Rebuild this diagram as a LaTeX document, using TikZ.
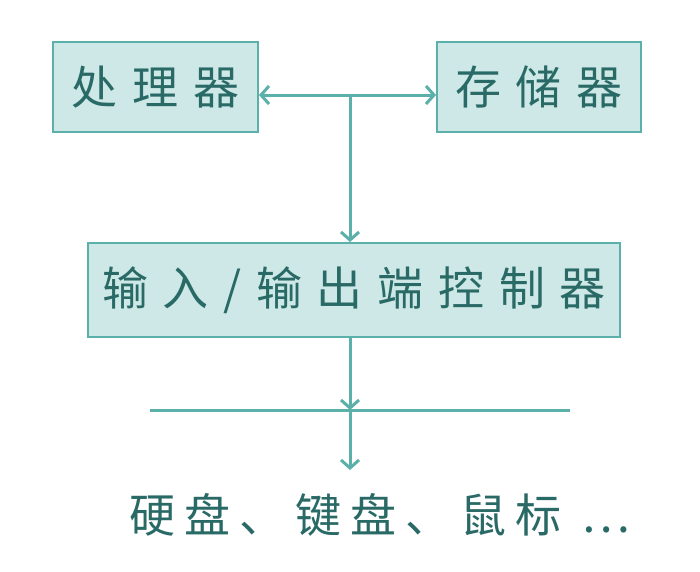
\documentclass[tikz,border=0pt]{standalone}
\usepackage{fontspec}
\newfontfamily\cjk{Noto Sans CJK SC}
\newfontfamily\cjkw[LetterSpace=32]{Noto Sans CJK SC}
\newfontfamily\cjkn[LetterSpace=20]{Noto Sans CJK SC}
\usetikzlibrary{arrows.meta}
\definecolor{edge}{HTML}{5BB0AA}
\definecolor{fillc}{HTML}{CDE8E6}
\definecolor{txt}{HTML}{2A6A66}
\tikzset{big/.style={font=\cjkw\fontsize{46}{50}\selectfont,text=txt},
 box/.style={big,draw=edge,fill=fillc,line width=2pt,inner sep=0pt},
 conn/.style={draw=edge,line width=3pt,-{Straight Barb[length=8pt,width=18pt]}}}
\begin{document}
\begin{tikzpicture}[x=1pt,y=-1pt]
\useasboundingbox[fill=white] (0,0) rectangle (700,571);
\node[box,minimum width=205,minimum height=90] (cpu) at (155.5,87) {处理器};
\node[box,minimum width=204,minimum height=90] (mem) at (539,87) {存储器};
\node[box,minimum width=532,minimum height=94] (io) at (354,290) {输入/输出端控制器};
\coordinate (j) at (350,95);
\coordinate (hl) at (150,410);
\coordinate (hr) at (570,410);
\coordinate (hm) at (350,410);
\node[font=\cjkn\fontsize{46}{50}\selectfont,text=txt,anchor=west] (dev) at (126,515) {硬盘、键盘、鼠标 …};
\draw[conn,{Straight Barb[length=8pt,width=18pt]}-{Straight Barb[length=8pt,width=18pt]}] (cpu.east|-j) -- (mem.west|-j);
\draw[conn] (j) -- (j|-io.north);
\draw[conn] (hm|-io.south) -- (hm);
\draw[edge,line width=3pt] (hl) -- (hr);
\draw[conn] (hm) -- (350,470);
\end{tikzpicture}
\end{document}
